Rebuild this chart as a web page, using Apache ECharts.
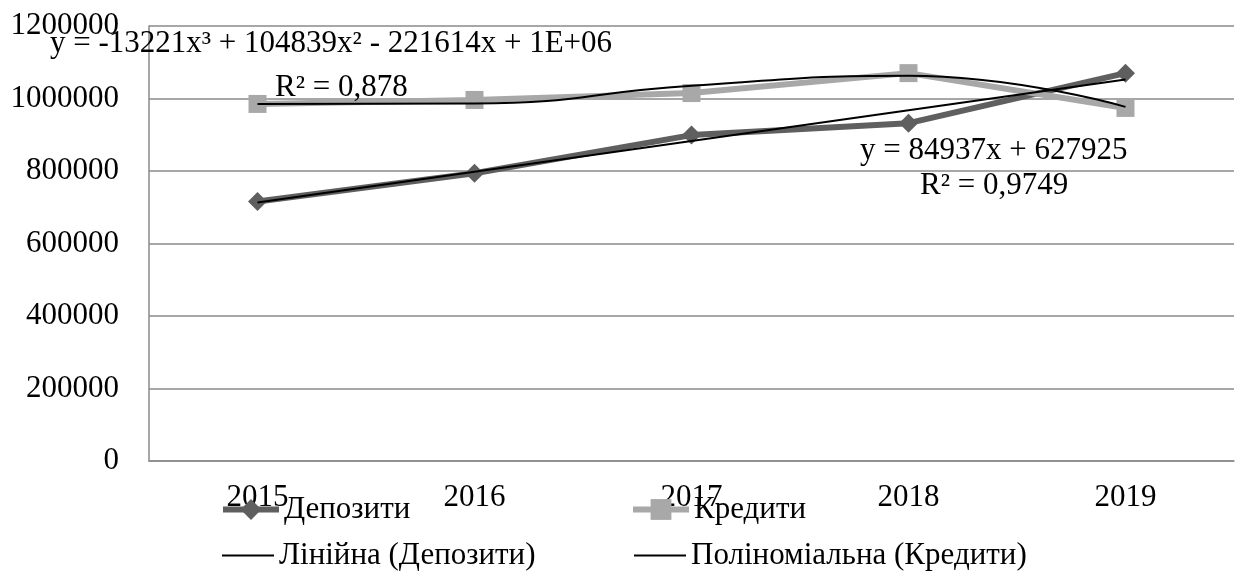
<!DOCTYPE html>
<html>
<head>
<meta charset="utf-8">
<script src="https://cdn.jsdelivr.net/npm/echarts@6/dist/echarts.min.js"></script>
<style>
html,body{margin:0;padding:0;background:#fff;}
#chart{width:1237px;height:574px;}
</style>
</head>
<body>
<div id="chart"></div>
<script>
const categories = ['2015', '2016', '2017', '2018', '2019'];
const deposits = [716000, 794000, 899000, 932000, 1070000];
const credits = [985000, 996000, 1015000, 1070000, 974000];
const linearTrend = [712862, 797799, 882736, 967673, 1052610];
const polyTrend = [985000, 986000, 1035000, 1063000, 977000];
const seriesNames = ['Депозити', 'Кредити', 'Лінійна (Депозити)', 'Поліноміальна (Кредити)'];
const yTicks = [0, 200000, 400000, 600000, 800000, 1000000, 1200000];
const polyEquation = 'y = -13221x³ + 104839x² - 221614x + 1E+06';
const polyR2 = 'R² = 0,878';
const linEquation = 'y = 84937x + 627925';
const linR2 = 'R² = 0,9749';

const FONT = 'Liberation Serif';
const FS = 31;
const chart = echarts.init(document.getElementById('chart'));

function legendAt(name, left, top, width, isTrend) {
  const l = {
    data: [isTrend ? {name: name, icon: 'rect'} : name],
    left: left, top: top, orient: 'horizontal',
    itemWidth: width, itemHeight: isTrend ? 2 : 26, itemGap: 0, padding: 0,
    textStyle: {fontFamily: FONT, fontSize: FS, color: '#000', lineHeight: 30},
    selectedMode: false
  };
  if (!isTrend) { l.lineStyle = {width: 6}; }
  return l;
}

chart.setOption({
  animation: false,
  backgroundColor: '#fff',
  grid: {left: 149, right: 3, top: 26, bottom: 113, containLabel: false},
  xAxis: {
    type: 'category', data: categories, boundaryGap: true,
    axisLine: {lineStyle: {color: '#8a8a8a', width: 1.5}},
    axisTick: {show: false},
    axisLabel: {fontFamily: FONT, fontSize: FS, color: '#000', margin: 21}
  },
  yAxis: {
    type: 'value', min: yTicks[0], max: yTicks[yTicks.length - 1], interval: yTicks[1] - yTicks[0],
    axisLine: {show: true, lineStyle: {color: '#8a8a8a', width: 1.5}},
    axisTick: {show: false},
    splitLine: {lineStyle: {color: '#8a8a8a', width: 1.5}},
    axisLabel: {fontFamily: FONT, fontSize: FS, color: '#000', margin: 30,
      formatter: function (v) { return String(v); }}
  },
  legend: [
    legendAt(seriesNames[0], 220, 494, 56, false),
    legendAt(seriesNames[1], 630, 494, 56, false),
    legendAt(seriesNames[2], 222, 540, 52, true),
    legendAt(seriesNames[3], 634, 540, 52, true)
  ],
  series: [
    {name: seriesNames[0], type: 'line', data: deposits, color: '#5f5f5f',
     lineStyle: {width: 6, color: '#5f5f5f'}, symbol: 'diamond', symbolSize: 19,
     itemStyle: {color: '#5f5f5f'}, z: 2},
    {name: seriesNames[1], type: 'line', data: credits, color: '#a8a8a8',
     lineStyle: {width: 6, color: '#a8a8a8'}, symbol: 'rect', symbolSize: 18,
     itemStyle: {color: '#a8a8a8'}, z: 2},
    {name: seriesNames[2], type: 'line', data: linearTrend, color: '#000',
     lineStyle: {width: 2, color: '#000'}, symbol: 'none', z: 3},
    {name: seriesNames[3], type: 'line', data: polyTrend, color: '#000', smooth: 0.5,
     lineStyle: {width: 2, color: '#000'}, symbol: 'none', z: 3}
  ],
  graphic: [
    {type: 'text', left: 50, top: 28, z: 10, style: {text: polyEquation, font: FS + 'px "' + FONT + '"', fill: '#000'}},
    {type: 'text', left: 275, top: 72, z: 10, style: {text: polyR2, font: FS + 'px "' + FONT + '"', fill: '#000'}},
    {type: 'text', left: 860, top: 135, z: 10, style: {text: linEquation, font: FS + 'px "' + FONT + '"', fill: '#000'}},
    {type: 'text', left: 920, top: 170, z: 10, style: {text: linR2, font: FS + 'px "' + FONT + '"', fill: '#000'}}
  ]
});
</script>
</body>
</html>
